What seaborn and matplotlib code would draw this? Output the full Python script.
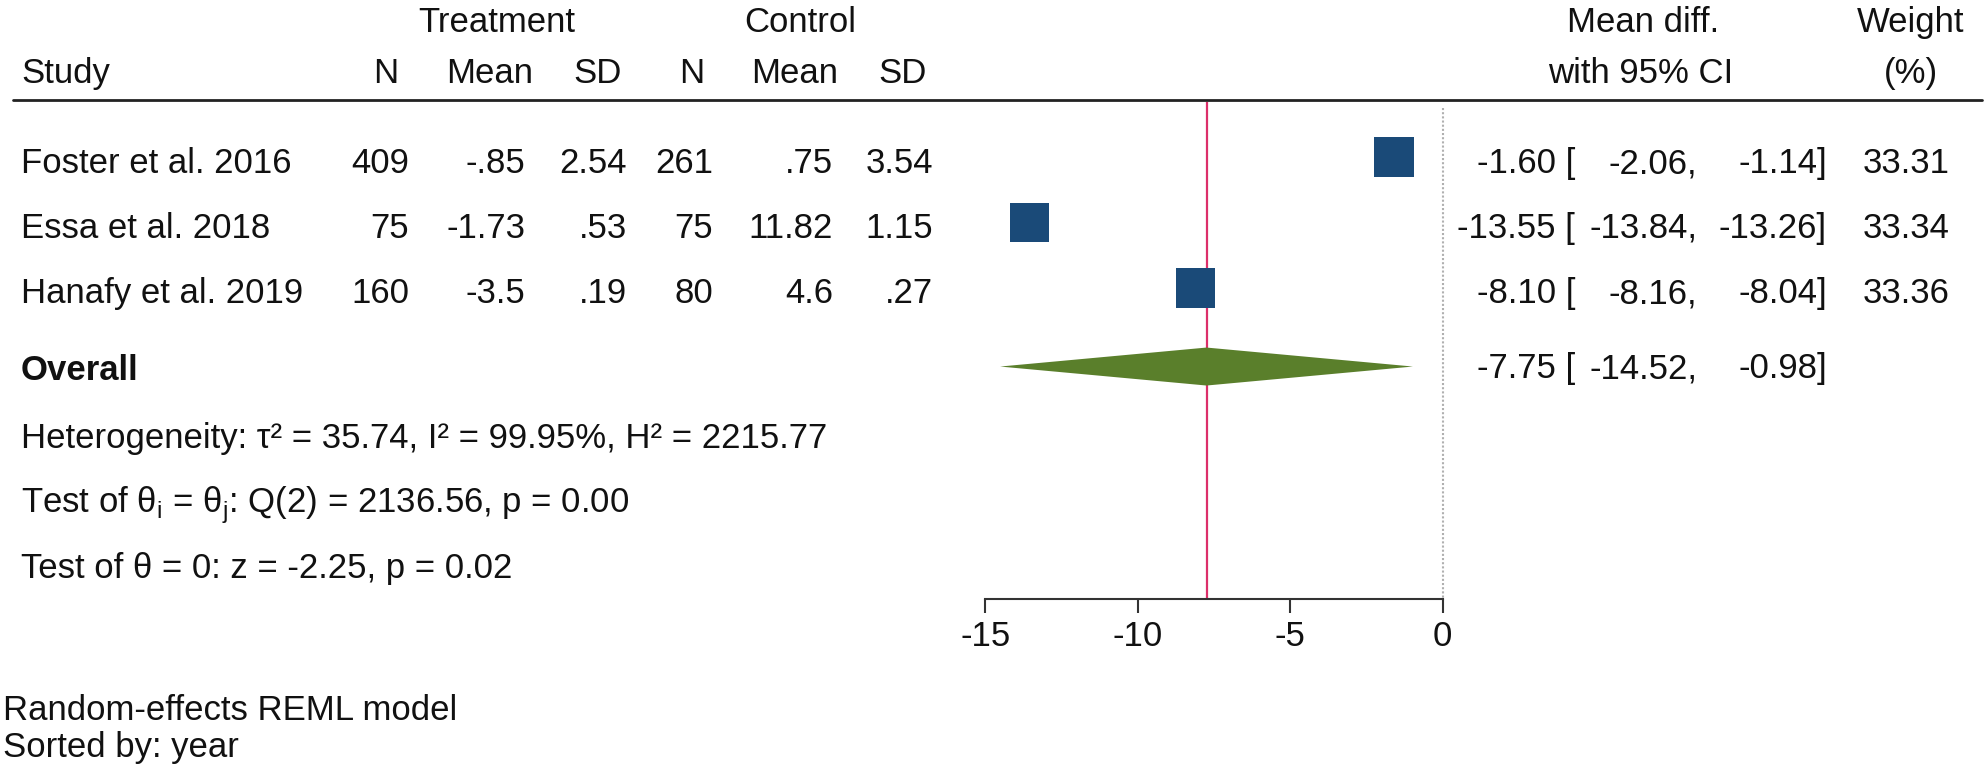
import matplotlib
matplotlib.use("Agg")
import matplotlib.pyplot as plt
import seaborn as sns
import pandas as pd

# data
studies = ["Foster et al. 2016", "Essa et al. 2018", "Hanafy et al. 2019"]
t_n = ["409", "75", "160"]
t_mean = ["-.85", "-1.73", "-3.5"]
t_sd = ["2.54", ".53", ".19"]
c_n = ["261", "75", "80"]
c_mean = [".75", "11.82", "4.6"]
c_sd = ["3.54", "1.15", ".27"]
md = [-1.60, -13.55, -8.10]
md_lo = [-2.06, -13.84, -8.16]
md_hi = [-1.14, -13.26, -8.04]
weight = [33.31, 33.34, 33.36]
overall = -7.75
overall_lo = -14.52
overall_hi = -0.98
x_ticks = [-15, -10, -5, 0]
stats_lines = [
    "Heterogeneity: τ² = 35.74, I² = 99.95%, H² = 2215.77",
    r"Test of θ$_\mathrm{i}$ = θ$_\mathrm{j}$: Q(2) = 2136.56, p = 0.00",
    "Test of θ = 0: z = -2.25, p = 0.02",
]
footnote = ["Random-effects REML model", "Sorted by: year"]

sns.set_theme(style="white")
plt.rcParams["font.family"] = ["Liberation Sans", "DejaVu Sans"]
plt.rcParams["mathtext.fontset"] = "custom"
plt.rcParams["mathtext.rm"] = "Liberation Sans"
plt.rcParams["axes.unicode_minus"] = False

W, H = 1985, 770
FS = 25
fig = plt.figure(figsize=(W / 100, H / 100), dpi=100)


def fx(px):
    return px / W


def fy(py):
    return 1 - py / H


def txt(x, y, s, ha="left", **kw):
    fig.text(fx(x), fy(y), s, ha=ha, va="baseline", fontsize=FS, color="#111111", **kw)


# forest panel: pixel 955..1458 horizontally, 102..599 vertically
ax = fig.add_axes([fx(955), fy(599), (1458 - 955) / W, (599 - 102) / H])
ax.set_xlim(-16, 0.5)
ax.set_ylim(7.75, 0.16)

df = pd.DataFrame({"study": studies, "md": md, "lo": md_lo, "hi": md_hi,
                   "row": [1, 2, 3]})
ax.hlines(df["row"], df["lo"], df["hi"], color="#1a4a78", lw=2, zorder=2)
sns.scatterplot(data=df, x="md", y="row", marker="s", s=800, color="#1a4a78",
                edgecolor="none", ax=ax, zorder=3, legend=False)

yo, hh = 4.2, 0.29
ax.fill([overall_lo, overall, overall_hi, overall],
        [yo, yo - hh, yo, yo + hh], color="#5a7f2b", zorder=3, lw=0)

ax.axvline(overall, color="#dc2f6a", lw=1.6, zorder=1)
ax.vlines(0, 0.25, 7.75, color="#b0b0b0", lw=1.5, linestyles=(0, (1, 1)), zorder=1)

for sp in ["top", "left", "right"]:
    ax.spines[sp].set_visible(False)
ax.spines["bottom"].set_bounds(-15, 0)
ax.spines["bottom"].set_linewidth(1.5)
ax.spines["bottom"].set_color("#333333")
ax.set_xticks(x_ticks)
ax.set_xticklabels([str(t) for t in x_ticks], fontsize=FS, color="#111111")
ax.set_yticks([])
ax.tick_params(axis="x", bottom=True, length=10, width=1.5, color="#333333", pad=5)
ax.set_xlabel("")
ax.set_ylabel("")
ax.patch.set_alpha(0)

# header
txt(497, 32, "Treatment", ha="center")
txt(800, 32, "Control", ha="center")
txt(1643, 32, "Mean diff.", ha="center")
txt(1911, 32, "Weight", ha="center")
txt(21, 83, "Study")
for cx, s in [(386, "N"), (490, "Mean"), (598, "SD"), (692, "N"), (795, "Mean"),
              (903, "SD"), (1641, "with 95% CI"), (1911, "(%)")]:
    txt(cx, 83, s, ha="center")
fig.add_artist(plt.Line2D([fx(13), fx(1982)], [fy(100), fy(100)],
                          color="#222222", lw=2))

# study rows
base = [173, 238, 303]
for i, b in enumerate(base):
    txt(21, b, studies[i])
    txt(409, b, t_n[i], ha="right")
    txt(525, b, t_mean[i], ha="right")
    txt(627, b, t_sd[i], ha="right")
    txt(713, b, c_n[i], ha="right")
    txt(833, b, c_mean[i], ha="right")
    txt(933, b, c_sd[i], ha="right")
    txt(1575, b, f"{md[i]:.2f} [", ha="right")
    txt(1697, b, f"{md_lo[i]:.2f},", ha="right")
    txt(1827, b, f"{md_hi[i]:.2f}]", ha="right")
    txt(1950, b, f"{weight[i]:.2f}", ha="right")

# overall row
txt(21, 380, "Overall", fontweight="bold")
txt(1575, 378, f"{overall:.2f} [", ha="right")
txt(1697, 378, f"{overall_lo:.2f},", ha="right")
txt(1827, 378, f"{overall_hi:.2f}]", ha="right")

for b, s in zip([448, 513, 578], stats_lines):
    txt(21, b, s)
for b, s in zip([720, 757], footnote):
    txt(3, b, s)

fig.savefig("out.png", dpi=100, facecolor="white")
